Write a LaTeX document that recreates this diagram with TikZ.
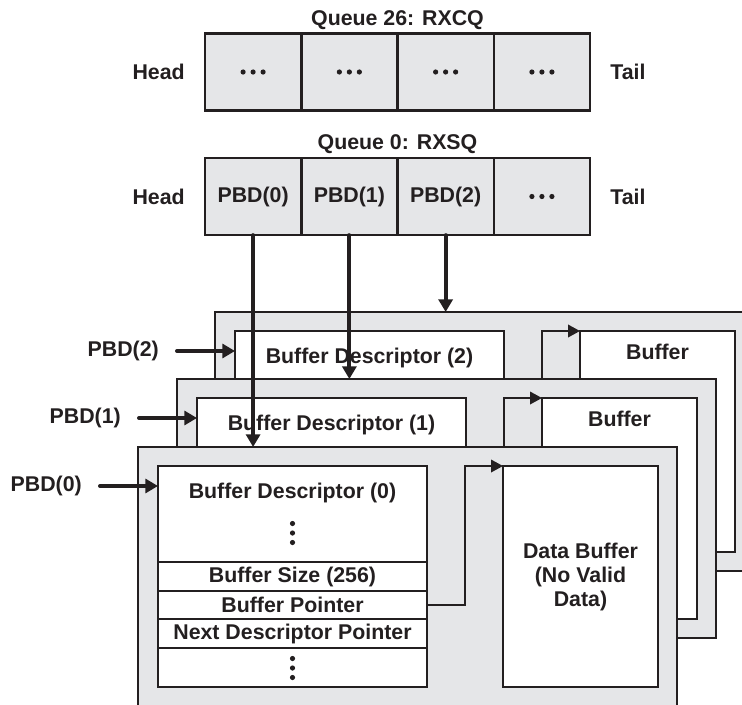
\documentclass[tikz,border=0pt]{standalone}
\usepackage{fontspec}
\setmainfont{Liberation Sans}
\usetikzlibrary{arrows.meta,positioning}

\definecolor{ink}{RGB}{35,31,32}
\definecolor{framegray}{RGB}{229,230,232}

\tikzset{
  lbl/.style={font=\bfseries\fontsize{16}{18}\selectfont, text=ink, inner sep=0pt},
  qcell/.style={draw=ink, fill=framegray, line width=1.9pt, minimum width=72.2pt, minimum height=58pt, inner sep=0pt, outer sep=0pt, font=\bfseries\fontsize{16}{18}\selectfont, text=ink},
  frame/.style={draw=ink, fill=framegray, line width=1.9pt, minimum width=404.25pt, minimum height=194.25pt, anchor=north west, outer sep=0pt},
  descbox/.style={draw=ink, fill=white, line width=1.9pt, minimum width=201.75pt, minimum height=165.75pt, anchor=north west, outer sep=0pt},
  bufbox/.style={descbox, minimum width=116.25pt},
  rowline/.style={draw=ink, line width=1.1pt},
  ptrline/.style={draw=ink, line width=1.1pt, -{Triangle[length=9pt,width=9.5pt]}},
  bigarrow/.style={draw=ink, line width=3pt, line cap=round, -{Triangle[length=9.5pt,width=10.5pt]}},
  hdots/.pic={\foreach \d in {-10,0,10} \fill[ink] (\d,0) circle (2.6);},
  vdots/.pic={\foreach \d in {-9.5,0,9.5} \fill[ink] (0,\d) circle (2.6);}
}

\begin{document}
\begin{tikzpicture}[x=0.75pt,y=0.75pt,yscale=-1,xscale=1]
\useasboundingbox (0,0) rectangle (742,704);

% Queue 26 (y axis points down, so a positive yshift goes down)
\node[qcell] (q26a) at (253.1,72) {};
\node[qcell, right=0pt of q26a] (q26b) {};
\node[qcell, right=0pt of q26b] (q26c) {};
\node[qcell, right=0pt of q26c] (q26d) {};
\foreach \c in {a,b,c,d} \pic at (q26\c) {hdots};
\node[lbl, anchor=base] (t26) at ([yshift=-6pt]q26b.north east) {Queue 26: RXCQ};
\node[lbl, left=15pt of q26a] (h26) {Head};
\node[lbl, right=15pt of q26d] (tl26) {Tail};

% Queue 0
\node[qcell] (q0a) at (253.1,196.5) {PBD(0)};
\node[qcell, right=0pt of q0a] (q0b) {PBD(1)};
\node[qcell, right=0pt of q0b] (q0c) {PBD(2)};
\node[qcell, right=0pt of q0c] (q0d) {};
\pic at (q0d) {hdots};
\node[lbl, anchor=base] (t0) at ([yshift=-6.5pt]q0b.north east) {Queue 0: RXSQ};
\node[lbl, left=15pt of q0a] (h0) {Head};
\node[lbl, right=15pt of q0d] (tl0) {Tail};

% descriptor / buffer layers, back to front
\foreach \i/\fx/\fy in {2/215/312, 1/177/379, 0/138/447}{
  \node[frame] (fr\i) at (\fx,\fy) {};
  \node[descbox] (desc\i) at (\fx+20,\fy+19) {};
  \node[bufbox] (buf\i) at (\fx+365,\fy+19) {};
  \node[lbl] (dt\i) at ([yshift=20.25pt]desc\i.north) {Buffer Descriptor (\i)};
  \ifnum\i>0 \node[lbl] (bt\i) at ([yshift=15.75pt]buf\i.north) {Buffer};\fi
  \coordinate (bp\i) at (\fx+289,\fy+158);
  \draw[ptrline] (bp\i) -- ++(38,0) |- (buf\i.north west);
  \coordinate (in\i) at (\fx+20,\fy+39);
  \node[lbl, left=57pt of in\i] (pbd\i) {PBD(\i)};
  \draw[bigarrow] ([xshift=13.5pt]pbd\i.east) -- (in\i);
}

% fields of descriptor 0
\foreach \yy in {562,591,619,648}
  \draw[rowline] (desc0.west |- 0,\yy) -- (desc0.east |- 0,\yy);
\pic at (desc0.center |- 0,533) {vdots};
\node[lbl] (bsz) at (desc0.center |- 0,576.5) {Buffer Size (256)};
\node[lbl] (bptr) at (desc0.center |- 0,605) {Buffer Pointer};
\node[lbl] (ndp) at (desc0.center |- 0,633.5) {Next Descriptor Pointer};
\pic at (desc0.center |- 0,668) {vdots};
\node[lbl, align=center] (dbt) at (buf0) {Data Buffer\\(No Valid\\Data)};

% queue entries to descriptors
\draw[bigarrow] (q0a.south) -- (q0a.south |- fr0.north);
\draw[bigarrow] (q0b.south) -- (q0b.south |- fr1.north);
\draw[bigarrow] (q0c.south) -- (q0c.south |- fr2.north);
\end{tikzpicture}
\end{document}
